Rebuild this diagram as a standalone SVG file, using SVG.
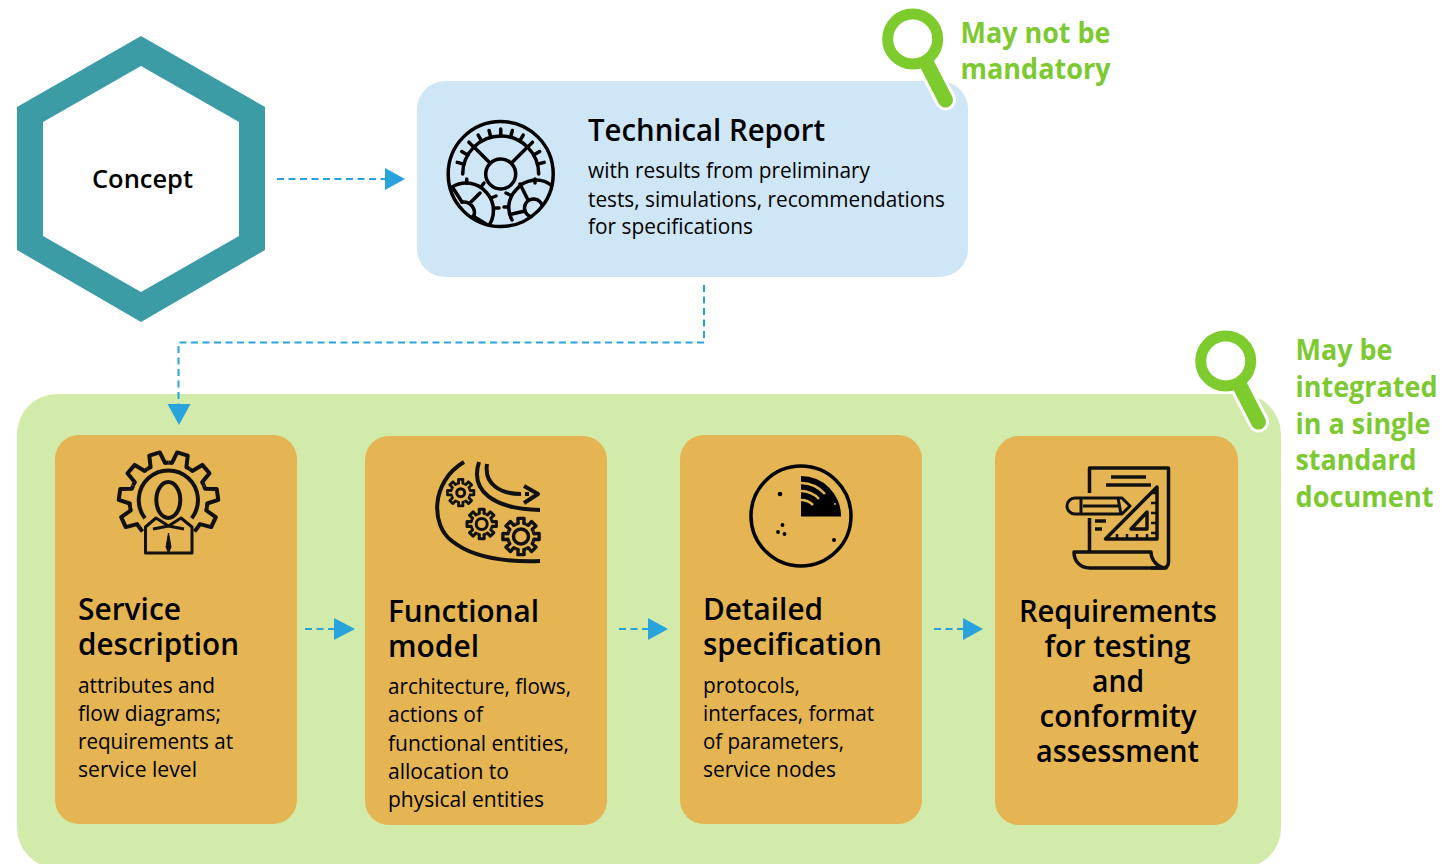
<svg xmlns="http://www.w3.org/2000/svg" width="1442" height="864" viewBox="0 0 1442 864">
<style>
text{font-family:"Open Sans","Noto Sans","Liberation Sans",sans-serif;fill:#000}
.h{font-size:30px;font-weight:600;letter-spacing:0}
.b{font-size:22px}
.g{font-size:28px;font-weight:700;fill:#7dc931}
.box{fill:#e4b552}
.i{fill:none;stroke:#000;stroke-width:3.5;stroke-linecap:round;stroke-linejoin:round}
.i2{fill:none;stroke:#111;stroke-width:4;stroke-linejoin:round}
.c{fill:none;stroke:#29a3dc;stroke-width:2;stroke-dasharray:7 4.5}
.a{fill:#29a3dc}
.m{fill:none;stroke:#7dcb2d;stroke-linecap:round}
.hl{fill:none;stroke:#fff;stroke-linecap:round;stroke-width:21}
</style>
<defs>
<path id="t8" d="M-.2755-.665L-.15-.704-.17-.98.17-.98.15-.704.2755-.665"/>
<g id="g8">
<use href="#t8"/><use href="#t8" transform="rotate(45)"/><use href="#t8" transform="rotate(90)"/><use href="#t8" transform="rotate(135)"/><use href="#t8" transform="rotate(180)"/><use href="#t8" transform="rotate(225)"/><use href="#t8" transform="rotate(270)"/><use href="#t8" transform="rotate(315)"/>
</g>
<path id="t11" d="M-11-37.4L-7.5-38-5.5-49.5 5.5-49.5 7.5-38 11-37.4"/>
<path id="tk" d="M0-38V-45"/>
<clipPath id="rc"><circle cx="500.7" cy="174" r="52"/></clipPath>
</defs>
<rect width="1442" height="864" fill="#fff"/>

<g id="concept">
<path d="M141 36L265 107V250L141 322 17 250V107Z" fill="#3c9ca6"/>
<path d="M141 66L239 122V236L141 292 43 236V122Z" fill="#fff"/>
<text x="92" y="188" style="font-size:26px;font-weight:600" textLength="101" lengthAdjust="spacingAndGlyphs">Concept</text>
</g>

<g id="technical-report">
<rect x="417" y="81" width="551" height="196" rx="28" fill="#cfe6f6"/>
<g class="i">
<circle cx="500.7" cy="174" r="52.500"/>
<circle cx="500.7" cy="174" r="15"/>
<path d="M462.700 174A38 38 0 1 1 538.700 174"/>
<path d="M489 162L473.500 146.500M512.500 162L528 146.500"/>
<g transform="translate(500.700 174)">
<use href="#tk"/><use href="#tk" transform="rotate(15)"/><use href="#tk" transform="rotate(30)"/><use href="#tk" transform="rotate(45)"/><use href="#tk" transform="rotate(60)"/><use href="#tk" transform="rotate(75)"/><use href="#tk" transform="rotate(-15)"/><use href="#tk" transform="rotate(-30)"/><use href="#tk" transform="rotate(-45)"/><use href="#tk" transform="rotate(-60)"/><use href="#tk" transform="rotate(-75)"/>
</g>
<g clip-path="url(#rc)">
<path d="M452 187A26.700 26.700 0 0 1 486 192 26.700 26.700 0 0 1 486 229"/>
<path d="M462 202A11 11 0 0 1 474 216"/>
<path d="M453 188L462 202M480 193L471 202M473 216L486 224M458 216L475 228"/>
<path d="M466.700 183V179M481 187L484 183M491 198L496 196M495 208H499"/>
<path d="M516 190A25 25 0 0 0 512 220M516 190A25 25 0 0 1 552 186"/>
<circle cx="533.500" cy="208" r="9"/>
<path d="M520 184L528 200M512 214L525 211M537 217L545 224"/>
<path d="M535 183V179M510 195L506 193M508 207H504"/>
</g>
</g>
<text x="588" y="141" class="h" textLength="237" lengthAdjust="spacingAndGlyphs">Technical Report</text>
<text x="588" y="178" class="b" textLength="282" lengthAdjust="spacingAndGlyphs">with results from preliminary</text>
<text x="588" y="206.500" class="b" textLength="357" lengthAdjust="spacingAndGlyphs">tests, simulations, recommendations</text>
<text x="588" y="234" class="b" textLength="165" lengthAdjust="spacingAndGlyphs">for specifications</text>
</g>

<g id="container">
<rect x="17" y="394" width="1264" height="474" rx="40" fill="#d3ebaa"/>
</g>

<g id="service-description">
<rect class="box" x="55" y="435" width="242" height="389" rx="24"/>
<g class="i2">
<g transform="translate(168.500 501.500)">
<use href="#t11" transform="rotate(-16.360)"/><use href="#t11" transform="rotate(16.360)"/><use href="#t11" transform="rotate(49.090)"/><use href="#t11" transform="rotate(81.820)"/><use href="#t11" transform="rotate(114.550)"/><use href="#t11" transform="rotate(-49.090)"/><use href="#t11" transform="rotate(-81.820)"/><use href="#t11" transform="rotate(-114.550)"/>
<path d="M29.500 25.600L26 30M-29.500 25.600L-26 30"/>
</g>
<path d="M145 518.300A29.600 29.600 0 1 1 191.700 518.300"/>
<ellipse cx="168.300" cy="500" rx="12" ry="18"/>
<path d="M145.500 553V527L156 518 168.500 526 181 518 192 527V553ZM153 529L168.500 526 184 529" stroke-width="3"/>
<path d="M168.500 533L166 547 168.500 553 171 547Z" fill="#111" stroke-width="1"/>
</g>
<text x="78" y="620" class="h" textLength="103" lengthAdjust="spacingAndGlyphs">Service</text>
<text x="78" y="655" class="h" textLength="161" lengthAdjust="spacingAndGlyphs">description</text>
<text x="78" y="693" class="b" textLength="137" lengthAdjust="spacingAndGlyphs">attributes and</text>
<text x="78" y="721" class="b" textLength="143" lengthAdjust="spacingAndGlyphs">flow diagrams;</text>
<text x="78" y="749" class="b" textLength="155" lengthAdjust="spacingAndGlyphs">requirements at</text>
<text x="78" y="777" class="b" textLength="119" lengthAdjust="spacingAndGlyphs">service level</text>
</g>

<g id="functional-model">
<rect class="box" x="365" y="436" width="242" height="389" rx="24"/>
<g class="i2">
<path d="M464 462C430 482 431 526 452 541 474 559 510 562 540 561"/>
<path d="M479 462C470 490 492 509 540 510"/>
<path d="M487 464C484 484 500 494 521 494"/>
<path d="M524 486L538 494 524 503"/>
<path d="M525 494h4"/>
<g transform="translate(460.700 492.700)"><g transform="scale(13.500)"><use href="#g8" stroke-width=".2"/></g><circle r="4" stroke-width="3"/></g>
<g transform="translate(481.700 524)"><g transform="scale(15)"><use href="#g8" stroke-width=".2"/></g><circle r="5.500" stroke-width="3"/></g>
<g transform="translate(521 536.500)"><g transform="scale(18.500)"><use href="#g8" stroke-width=".18"/></g><circle r="7.500" stroke-width="3.500"/></g>
</g>
<text x="388" y="621.500" class="h" textLength="151" lengthAdjust="spacingAndGlyphs">Functional</text>
<text x="388" y="656.500" class="h" textLength="91" lengthAdjust="spacingAndGlyphs">model</text>
<text x="388" y="694" class="b" textLength="183" lengthAdjust="spacingAndGlyphs">architecture, flows,</text>
<text x="388" y="722" class="b" textLength="95" lengthAdjust="spacingAndGlyphs">actions of</text>
<text x="388" y="750.500" class="b" textLength="181" lengthAdjust="spacingAndGlyphs">functional entities,</text>
<text x="388" y="778.500" class="b" textLength="121" lengthAdjust="spacingAndGlyphs">allocation to</text>
<text x="388" y="806.500" class="b" textLength="156" lengthAdjust="spacingAndGlyphs">physical entities</text>
</g>

<g id="detailed-specification">
<rect class="box" x="680" y="435" width="242" height="389" rx="24"/>
<g>
<circle cx="801" cy="516" r="50" fill="none" stroke="#000" stroke-width="3.500"/>
<path d="M801 476A40 40 0 0 1 841 516.500H801Z" fill="#000"/>
<path d="M801 483A33 33 0 0 1 825 494M801 491A25 25 0 0 1 819 499M801 500A17 17 0 0 1 813 505" fill="none" stroke="#e4b552" stroke-width="2.500"/>
<circle cx="835" cy="504" r="1" fill="#e4b552"/>
<circle cx="780" cy="494" r="2.300"/><circle cx="782.500" cy="525" r="1.900"/><circle cx="778" cy="532" r="1.900"/><circle cx="784.500" cy="534" r="1.900"/><circle cx="834" cy="540" r="2"/>
</g>
<text x="703" y="620" class="h" textLength="120" lengthAdjust="spacingAndGlyphs">Detailed</text>
<text x="703" y="655" class="h" textLength="179" lengthAdjust="spacingAndGlyphs">specification</text>
<text x="703" y="693" class="b" textLength="97" lengthAdjust="spacingAndGlyphs">protocols,</text>
<text x="703" y="721" class="b" textLength="171" lengthAdjust="spacingAndGlyphs">interfaces, format</text>
<text x="703" y="749" class="b" textLength="141" lengthAdjust="spacingAndGlyphs">of parameters,</text>
<text x="703" y="777" class="b" textLength="133" lengthAdjust="spacingAndGlyphs">service nodes</text>
</g>

<g id="requirements">
<rect class="box" x="995" y="436" width="243" height="389" rx="24"/>
<g class="i2" style="stroke-width:3.500">
<path d="M1089.500 493V468H1168.500V562Q1168.500 568 1162 568H1151M1089.500 518V551"/>
<path d="M1111 477H1146M1106 485H1151"/>
<path d="M1095 521H1106M1095 529H1102"/>
<path d="M1074 552H1151C1151 560 1158 568 1166 568H1090C1080 568 1074 561 1074 552Z"/>
<path d="M1075 498H1122L1130 506 1122 514H1075A8 8 0 0 1 1075 498ZM1081 498V514M1083 506H1118M1118 498L1121 514" style="stroke-width:3"/>
<path d="M1157 487V539H1105.500ZM1147 512V529H1131Z"/>
<path d="M1151 493H1156M1151 503H1156M1151 513H1156M1151 523H1156M1151 533H1156M1117 534V538M1127 534V538M1137 534V538M1147 534V538" style="stroke-width:2.500"/>
</g>
<text x="1118" y="621.500" class="h" text-anchor="middle" textLength="198" lengthAdjust="spacingAndGlyphs">Requirements</text>
<text x="1117.500" y="656.500" class="h" text-anchor="middle" textLength="146" lengthAdjust="spacingAndGlyphs">for testing</text>
<text x="1118" y="691.500" class="h" text-anchor="middle" textLength="52" lengthAdjust="spacingAndGlyphs">and</text>
<text x="1118" y="727" class="h" text-anchor="middle" textLength="157" lengthAdjust="spacingAndGlyphs">conformity</text>
<text x="1117.500" y="762" class="h" text-anchor="middle" textLength="163" lengthAdjust="spacingAndGlyphs">assessment</text>
</g>

<g id="connectors">
<path class="c" d="M277 179H385"/><path class="a" d="M385 168L405 179 385 190Z"/>
<path class="c" d="M704 285V342.500H178.500V405"/><path class="a" d="M167.500 404H190.500L179 425Z"/>
<path class="c" d="M305 629H335"/><path class="a" d="M334 618L355 629 334 640Z"/>
<path class="c" d="M619 629H648"/><path class="a" d="M648 618L668 629 648 640Z"/>
<path class="c" d="M934 629H963"/><path class="a" d="M963 618L983 629 963 640Z"/>
</g>

<g id="note-mandatory">
<path class="hl" d="M927 64L945.500 100"/>
<circle class="m" cx="912.700" cy="39" r="25" stroke-width="11"/>
<path class="m" stroke-width="15" d="M927 64L945.500 100"/>
<text x="960.500" y="43" class="g" textLength="150" lengthAdjust="spacingAndGlyphs">May not be</text>
<text x="960.500" y="79" class="g" textLength="150" lengthAdjust="spacingAndGlyphs">mandatory</text>
</g>
<g id="note-integrated">
<path class="hl" d="M1240 386L1258.500 422"/>
<circle class="m" cx="1225.700" cy="361" r="25" stroke-width="11"/>
<path class="m" stroke-width="15" d="M1240 386L1258.500 422"/>
<text x="1295.500" y="360" class="g" textLength="97" lengthAdjust="spacingAndGlyphs">May be</text>
<text x="1295.500" y="397" class="g" textLength="142" lengthAdjust="spacingAndGlyphs">integrated</text>
<text x="1295.500" y="434" class="g" textLength="135" lengthAdjust="spacingAndGlyphs">in a single</text>
<text x="1295.500" y="470" class="g" textLength="121" lengthAdjust="spacingAndGlyphs">standard</text>
<text x="1295.500" y="507" class="g" textLength="138" lengthAdjust="spacingAndGlyphs">document</text>
</g>
</svg>
